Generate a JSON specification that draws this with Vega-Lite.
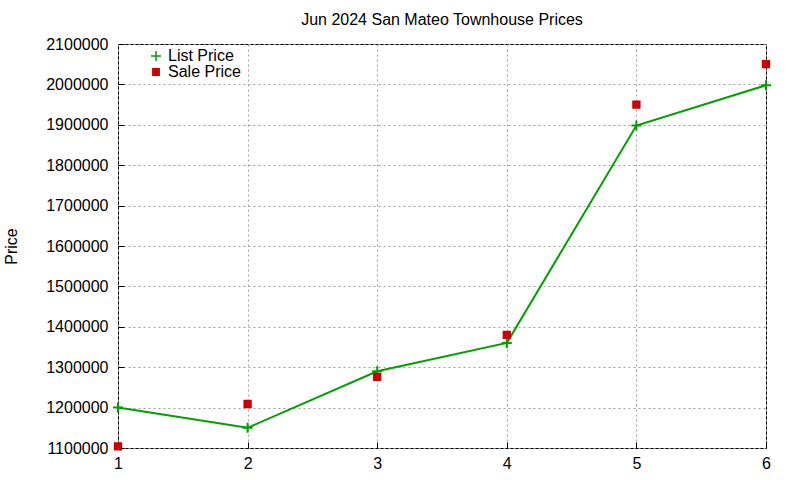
{
  "$schema": "https://vega.github.io/schema/vega-lite/v6.json",
  "autosize": "none",
  "width": 648,
  "height": 404,
  "padding": {"left": 118, "top": 44, "right": 34, "bottom": 32},
  "background": "white",
  "view": {"stroke": "black", "strokeWidth": 1},
  "title": {
    "text": "Jun 2024 San Mateo Townhouse Prices",
    "font": "Liberation Sans",
    "fontSize": 16,
    "fontWeight": "normal",
    "color": "black",
    "anchor": "middle",
    "offset": 8
  },
  "config": {
    "font": "Liberation Sans",
    "axis": {
      "labelFont": "Liberation Sans",
      "labelFontSize": 16,
      "labelColor": "black",
      "labelFlush": false,
      "domain": false,
      "tickColor": "black",
      "tickSize": -6,
      "grid": true,
      "gridColor": "#a0a0a0",
      "gridDash": [2, 3],
      "gridWidth": 1,
      "titleFont": "Liberation Sans",
      "titleFontSize": 16,
      "titleFontWeight": "normal",
      "titleColor": "black"
    },
    "legend": {
      "labelFont": "Liberation Sans",
      "labelFontSize": 16,
      "labelColor": "black"
    }
  },
  "data": {
    "values": [
      {"x": 1, "price": 1200000, "series": "List Price"},
      {"x": 2, "price": 1150000, "series": "List Price"},
      {"x": 3, "price": 1290000, "series": "List Price"},
      {"x": 4, "price": 1360000, "series": "List Price"},
      {"x": 5, "price": 1898000, "series": "List Price"},
      {"x": 6, "price": 1998000, "series": "List Price"},
      {"x": 1, "price": 1104000, "series": "Sale Price"},
      {"x": 2, "price": 1209000, "series": "Sale Price"},
      {"x": 3, "price": 1276000, "series": "Sale Price"},
      {"x": 4, "price": 1380000, "series": "Sale Price"},
      {"x": 5, "price": 1950000, "series": "Sale Price"},
      {"x": 6, "price": 2050000, "series": "Sale Price"}
    ]
  },
  "encoding": {
    "x": {
      "field": "x",
      "type": "quantitative",
      "scale": {"domain": [1, 6], "nice": false, "zero": false},
      "axis": {"values": [1, 2, 3, 4, 5, 6], "format": "d", "title": null, "labelPadding": 13}
    },
    "y": {
      "field": "price",
      "type": "quantitative",
      "scale": {"domain": [1100000, 2100000], "nice": false, "zero": false},
      "axis": {
        "values": [1100000, 1200000, 1300000, 1400000, 1500000, 1600000, 1700000, 1800000, 1900000, 2000000, 2100000],
        "format": "d",
        "title": "Price",
        "titlePadding": 26,
        "labelPadding": 16
      }
    }
  },
  "layer": [
    {
      "transform": [{"filter": "datum.series === 'List Price'"}],
      "mark": {"type": "line", "strokeWidth": 2, "clip": false},
      "encoding": {
        "color": {
          "field": "series",
          "type": "nominal",
          "scale": {"domain": ["List Price", "Sale Price"], "range": ["#00a000", "#cc0000"]}
        }
      }
    },
    {
      "mark": {"type": "point", "filled": true, "strokeWidth": 2, "opacity": 1, "clip": false},
      "encoding": {
        "color": {
          "field": "series",
          "type": "nominal",
          "scale": {"domain": ["List Price", "Sale Price"], "range": ["#00a000", "#cc0000"]},
          "legend": {
            "title": null,
            "orient": "none",
            "legendX": 30,
            "legendY": 4,
            "rowPadding": 0,
            "symbolSize": 100
          }
        },
        "stroke": {
          "field": "series",
          "type": "nominal",
          "scale": {"domain": ["List Price", "Sale Price"], "range": ["#00a000", "#cc0000"]}
        },
        "shape": {
          "field": "series",
          "type": "nominal",
          "scale": {"domain": ["List Price", "Sale Price"], "range": ["M-1,0L1,0M0,-1L0,1", "square"]}
        },
        "size": {
          "field": "series",
          "type": "nominal",
          "scale": {"domain": ["List Price", "Sale Price"], "range": [100, 40]},
          "legend": null
        }
      }
    }
  ]
}
